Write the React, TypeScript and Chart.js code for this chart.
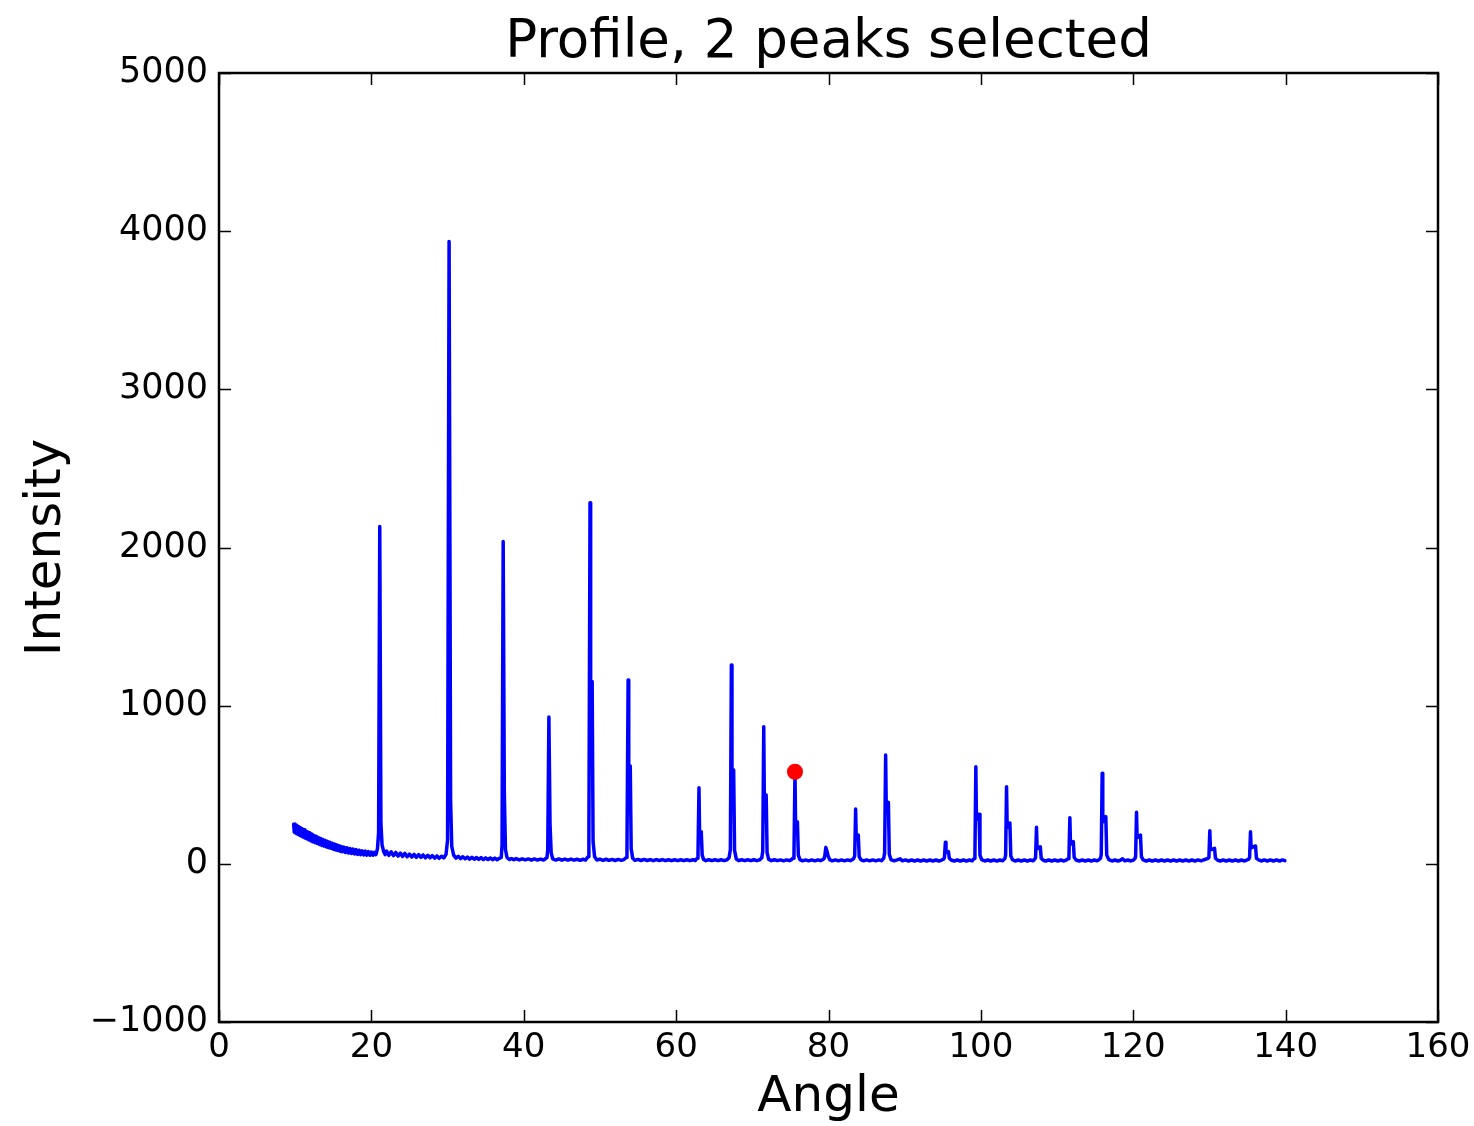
import React, { useEffect, useRef } from "react";
import { Chart, registerables } from "chart.js";

Chart.register(...registerables);

const TITLE = "Profile, 2 peaks selected";
const X_LABEL = "Angle";
const Y_LABEL = "Intensity";

const xTicks = [0, 20, 40, 60, 80, 100, 120, 140, 160];
const yTicks = [-1000, 0, 1000, 2000, 3000, 4000, 5000];

// Profile trace: [angle, intensity]
const lowAngleBackground: [number, number][] = [
  [9.8, 250], [9.88, 200], [9.96, 252], [10.04, 196], [10.12, 244], [10.2, 190], [10.3, 240], [10.4, 186],
  [10.5, 234], [10.6, 180], [10.7, 228], [10.8, 176], [10.92, 222], [11.04, 170], [11.16, 215], [11.28, 164],
  [11.4, 208], [11.52, 158], [11.65, 202], [11.78, 152], [11.91, 196], [12.04, 146], [12.17, 188], [12.3, 140],
  [12.45, 180], [12.6, 134], [12.75, 174], [12.9, 128], [13.05, 166], [13.2, 122], [13.35, 160], [13.5, 116],
  [13.65, 154], [13.8, 112], [13.95, 148], [14.1, 106], [14.25, 142], [14.4, 102], [14.55, 136], [14.7, 98],
  [14.85, 130], [15.0, 92], [15.15, 125], [15.3, 88], [15.45, 120], [15.6, 84], [15.75, 115], [15.9, 80],
  [16.05, 110], [16.2, 76], [16.4, 106], [16.6, 72], [16.8, 102], [17.0, 68], [17.2, 97], [17.4, 66],
  [17.6, 93], [17.8, 63], [18.0, 90], [18.2, 60], [18.4, 86], [18.6, 58], [18.8, 82], [19.0, 56],
  [19.2, 80], [19.4, 55], [19.6, 77], [19.8, 54], [20.0, 75], [20.2, 54], [20.4, 72], [20.6, 58],
];

const profileMain: [number, number][] = [
  // peak 21.1
  [20.8, 95], [20.95, 200], [21.1, 2133], [21.25, 260], [21.4, 120], [21.6, 80],
  [21.8, 58], [22.0, 80], [22.3, 54], [22.6, 76], [22.9, 52], [23.2, 72], [23.5, 49], [23.8, 68],
  [24.1, 47], [24.4, 66], [24.7, 45], [25.0, 62], [25.3, 43], [25.6, 60], [25.9, 41], [26.2, 58],
  [26.5, 40], [26.8, 56], [27.1, 38], [27.4, 54], [27.7, 38], [28.0, 52], [28.3, 36], [28.6, 50],
  [28.9, 35], [29.2, 48], [29.5, 37], [29.8, 60],
  // peak 30.2
  [30.0, 150], [30.2, 3935], [30.4, 400], [30.55, 110], [30.8, 55],
  [31.1, 36], [31.4, 48], [31.7, 33], [32.0, 45], [32.3, 32], [32.6, 43], [32.9, 30], [33.2, 41],
  [33.5, 29], [33.8, 40], [34.1, 28], [34.4, 39], [34.7, 27], [35.0, 38], [35.3, 27], [35.6, 37],
  [35.9, 26], [36.2, 36], [36.5, 26], [36.8, 35], [37.05, 40],
  // peak 37.3
  [37.15, 120], [37.3, 2038], [37.45, 450], [37.6, 90], [37.8, 40],
  [38.1, 27], [38.4, 34], [38.7, 26], [39.0, 33], [39.4, 25], [39.8, 32], [40.2, 25], [40.6, 31],
  [41.0, 24], [41.4, 31], [41.8, 24], [42.2, 30], [42.6, 24], [43.05, 40],
  // peak 43.3
  [43.15, 90], [43.3, 928], [43.45, 250], [43.6, 70], [43.8, 32],
  [44.2, 24], [44.6, 31], [45.0, 23], [45.4, 30], [45.8, 23], [46.2, 30], [46.6, 23], [47.0, 29],
  [47.4, 22], [47.8, 29], [48.1, 24], [48.45, 45],
  // peak 48.7
  [48.55, 130], [48.7, 2283], [48.78, 1040], [48.98, 1153], [49.1, 140], [49.3, 45],
  [49.6, 24], [50.0, 30], [50.4, 22], [50.8, 29], [51.2, 22], [51.6, 28], [52.0, 21], [52.4, 28],
  [52.8, 22], [53.15, 27], [53.45, 40],
  // peak 53.7
  [53.55, 90], [53.7, 1162], [53.78, 560], [53.98, 618], [54.1, 95], [54.3, 35],
  [54.6, 22], [55.0, 28], [55.4, 21], [55.8, 28], [56.2, 21], [56.6, 27], [57.0, 20], [57.4, 27],
  [57.8, 21], [58.2, 27], [58.6, 20], [59.0, 26], [59.4, 20], [59.8, 26], [60.2, 20], [60.6, 26],
  [61.0, 20], [61.4, 26], [61.8, 20], [62.2, 26], [62.5, 21], [62.75, 35],
  // peak 63.0
  [62.87, 60], [63.0, 481], [63.08, 185], [63.3, 203], [63.42, 55], [63.6, 28],
  [63.9, 20], [64.3, 26], [64.7, 20], [65.1, 26], [65.5, 20], [65.9, 26], [66.3, 20], [66.65, 25], [66.95, 38],
  // peak 67.25
  [67.12, 90], [67.25, 1257], [67.33, 535], [67.55, 593], [67.67, 85], [67.9, 30],
  [68.2, 20], [68.6, 26], [69.0, 20], [69.4, 26], [69.8, 20], [70.2, 26], [70.6, 20], [70.95, 25], [71.25, 38],
  // peak 71.5
  [71.37, 80], [71.5, 867], [71.58, 390], [71.82, 435], [71.94, 70], [72.15, 28],
  [72.5, 20], [72.9, 26], [73.3, 20], [73.7, 25], [74.1, 19], [74.5, 25], [74.85, 20], [75.15, 27], [75.35, 36],
  // peak 75.6
  [75.47, 60], [75.6, 576], [75.68, 240], [75.92, 266], [76.04, 55], [76.25, 27],
  [76.6, 19], [77.0, 25], [77.4, 19], [77.8, 25], [78.2, 19], [78.6, 25], [78.95, 20], [79.2, 26], [79.4, 32],
  // peak 79.65
  [79.5, 45], [79.65, 104], [79.8, 80], [79.95, 50], [80.15, 27],
  [80.5, 19], [80.9, 25], [81.3, 19], [81.7, 25], [82.1, 19], [82.5, 25], [82.85, 20], [83.1, 26], [83.3, 33],
  // peak 83.56
  [83.44, 50], [83.56, 347], [83.64, 165], [83.91, 182], [84.03, 45], [84.25, 26],
  [84.6, 19], [85.0, 25], [85.4, 19], [85.8, 25], [86.2, 19], [86.6, 25], [86.95, 20], [87.25, 35],
  // peak 87.5
  [87.37, 70], [87.5, 688], [87.58, 350], [87.86, 389], [87.98, 60], [88.2, 27],
  [88.6, 19], [89.0, 25], [89.4, 32], [89.7, 19], [90.1, 25], [90.5, 18], [90.9, 24], [91.3, 18],
  [91.7, 24], [92.1, 18], [92.5, 24], [92.9, 18], [93.3, 24], [93.7, 18], [94.1, 24], [94.5, 18],
  [94.85, 24], [95.1, 30],
  // peak 95.34
  [95.22, 40], [95.34, 136], [95.42, 70], [95.74, 77], [95.86, 35], [96.1, 24],
  [96.5, 18], [96.9, 24], [97.3, 18], [97.7, 24], [98.1, 18], [98.5, 24], [98.85, 19], [99.1, 33],
  // peak 99.34
  [99.22, 60], [99.34, 614], [99.42, 280], [99.76, 313], [99.88, 55], [100.1, 26],
  [100.5, 18], [100.9, 24], [101.3, 18], [101.7, 24], [102.1, 18], [102.5, 24], [102.85, 19], [103.15, 33],
  // peak 103.37
  [103.25, 55], [103.37, 488], [103.45, 230], [103.81, 258], [103.93, 50], [104.15, 26],
  [104.5, 18], [104.9, 24], [105.3, 18], [105.7, 24], [106.1, 18], [106.5, 24], [106.85, 19], [107.1, 32],
  // peak 107.3
  [107.18, 40], [107.3, 231], [107.38, 95], [107.8, 108], [107.92, 35], [108.15, 24],
  [108.5, 18], [108.9, 24], [109.3, 18], [109.7, 24], [110.1, 18], [110.5, 24], [110.9, 18], [111.2, 24], [111.45, 32],
  // peak 111.68
  [111.56, 45], [111.68, 292], [111.76, 125], [112.13, 140], [112.25, 40], [112.5, 24],
  [112.9, 18], [113.3, 24], [113.7, 18], [114.1, 24], [114.5, 18], [114.9, 24], [115.25, 19], [115.5, 26], [115.7, 35],
  // peak 115.92
  [115.8, 60], [115.92, 572], [116.0, 265], [116.4, 298], [116.52, 55], [116.8, 26],
  [117.2, 18], [117.6, 24], [118.0, 18], [118.35, 24], [118.6, 32], [118.9, 19], [119.3, 24], [119.7, 18],
  [120.0, 24], [120.2, 32],
  // peak 120.43
  [120.31, 45], [120.43, 326], [120.51, 165], [120.95, 182], [121.07, 45], [121.3, 25],
  [121.7, 18], [122.1, 24], [122.5, 18], [122.9, 24], [123.3, 18], [123.7, 24], [124.1, 18], [124.5, 24],
  [124.9, 18], [125.3, 24], [125.7, 18], [126.1, 24], [126.5, 18], [126.9, 24], [127.3, 18], [127.7, 24],
  [128.1, 18], [128.5, 25], [128.9, 19], [129.3, 26], [129.8, 34],
  // peak 130.05
  [129.93, 40], [130.05, 209], [130.13, 88], [130.67, 98], [130.79, 35], [131.05, 24],
  [131.4, 18], [131.8, 24], [132.2, 18], [132.6, 24], [133.0, 18], [133.4, 24], [133.8, 18], [134.2, 24],
  [134.6, 18], [134.9, 24], [135.15, 30],
  // peak 135.39
  [135.27, 40], [135.39, 203], [135.47, 100], [136.05, 113], [136.17, 35], [136.45, 25],
  [136.8, 18], [137.2, 25], [137.6, 18], [138.0, 25], [138.4, 18], [138.8, 25], [139.2, 18], [139.6, 25],
  [139.9, 20],
];

const selectedAngles = [30.3, 75.6];
const selectedIntensities = [4000, 582];
const selectedColors = ["#ffffff", "#ff0000"];

const FONT = "DejaVu Sans";

const framePlugin = {
  id: "frame",
  afterDraw(chart: any) {
    const { ctx, chartArea: a, scales } = chart;
    const L = 12;
    ctx.save();
    ctx.strokeStyle = "#000";
    ctx.lineWidth = 1.5;
    ctx.beginPath();
    scales.x.ticks.forEach((t: any) => {
      const px = Math.round(scales.x.getPixelForValue(t.value)) + 0.5;
      ctx.moveTo(px, a.bottom);
      ctx.lineTo(px, a.bottom - L);
      ctx.moveTo(px, a.top);
      ctx.lineTo(px, a.top + L);
    });
    scales.y.ticks.forEach((t: any) => {
      const py = Math.round(scales.y.getPixelForValue(t.value)) + 0.5;
      ctx.moveTo(a.left, py);
      ctx.lineTo(a.left + L, py);
      ctx.moveTo(a.right, py);
      ctx.lineTo(a.right - L, py);
    });
    ctx.stroke();
    ctx.lineWidth = 2.5;
    ctx.strokeRect(a.left, a.top, a.right - a.left, a.bottom - a.top);
    // title centred over the plotting area, as matplotlib does
    ctx.fillStyle = "#000";
    ctx.font = `53px "${FONT}"`;
    ctx.textAlign = "center";
    ctx.textBaseline = "alphabetic";
    ctx.fillText(TITLE, (a.left + a.right) / 2, 57);
    ctx.restore();
  },
};

const fmt = (v: number) => (v < 0 ? "\u2212" : "") + String(Math.abs(v));

export default function App() {
  const ref = useRef<HTMLCanvasElement | null>(null);

  useEffect(() => {
    if (!ref.current) return;
    const profile = [...lowAngleBackground, ...profileMain];
    const chart = new Chart(ref.current, {
      type: "line",
      data: {
        datasets: [
          {
            type: "scatter",
            data: selectedAngles.map((a, i) => ({ x: a, y: selectedIntensities[i] })),
            pointRadius: 8,
            pointBorderWidth: 0,
            pointBackgroundColor: selectedColors,
            pointBorderColor: selectedColors,
            showLine: false,
          } as any,
          {
            type: "line",
            data: profile.map(([x, y]) => ({ x, y })),
            borderColor: "#0000ff",
            borderWidth: 3.5,
            pointRadius: 0,
            tension: 0,
            borderJoinStyle: "round",
            borderCapStyle: "round",
            fill: false,
          } as any,
        ],
      },
      options: {
        responsive: false,
        animation: false,
        events: [],
        layout: { padding: { left: 0, right: 36, top: 73, bottom: 0 } },
        plugins: {
          legend: { display: false },
          tooltip: { enabled: false },
          title: { display: false },
        },
        scales: {
          x: {
            type: "linear",
            min: xTicks[0],
            max: xTicks[xTicks.length - 1],
            grid: { display: false, drawTicks: false },
            border: { display: false },
            ticks: {
              stepSize: xTicks[1] - xTicks[0],
              color: "#000",
              padding: 6,
              font: { family: FONT, size: 34 },
              callback: (v: any) => fmt(Number(v)),
              maxRotation: 0,
              autoSkip: false,
            },
            title: {
              display: true,
              text: X_LABEL,
              color: "#000",
              font: { family: FONT, size: 50, lineHeight: 1.1 },
              padding: { top: 0, bottom: 0 },
            },
            afterFit: (s: any) => {
              s.height = 104;
              s.paddingRight = 0;
              s.paddingLeft = 0;
            },
          },
          y: {
            type: "linear",
            min: yTicks[0],
            max: yTicks[yTicks.length - 1],
            grid: { display: false, drawTicks: false },
            border: { display: false },
            ticks: {
              stepSize: yTicks[1] - yTicks[0],
              color: "#000",
              padding: 11,
              font: { family: FONT, size: 35 },
              callback: (v: any) => fmt(Number(v)),
              autoSkip: false,
            },
            title: {
              display: true,
              text: Y_LABEL,
              color: "#000",
              font: { family: FONT, size: 50, lineHeight: 1.2 },
              padding: { top: 17, bottom: 0 },
            },
            afterFit: (s: any) => {
              s.width = 219;
              s.paddingTop = 0;
              s.paddingBottom = 0;
            },
          },
        },
      },
      plugins: [framePlugin],
    } as any);
    return () => chart.destroy();
  }, []);

  return (
    <div style={{ position: "absolute", left: 0, top: 0, width: 1474, height: 1126, background: "#fff" }}>
      <canvas ref={ref} width={1474} height={1126} style={{ display: "block" }} />
    </div>
  );
}
